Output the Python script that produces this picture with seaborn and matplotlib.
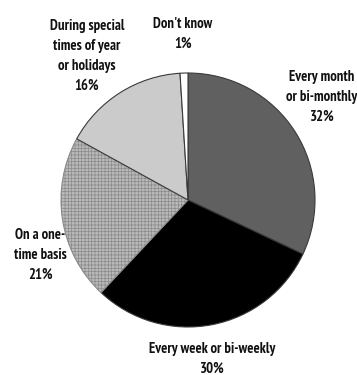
import matplotlib
matplotlib.use("Agg")
import matplotlib.pyplot as plt
import seaborn as sns

# Survey shares: how often people give
categories = [
    "Every month\nor bi-monthly",
    "Every week or bi-weekly",
    "On a one-\ntime basis",
    "During special\ntimes of year\nor holidays",
    "Don't know",
]
shares = [32, 30, 21, 16, 1]
slice_colors = ["#606060", "#000000", "#b9b9b9", "#cbcbcb", "#ffffff"]

sns.set_theme(style="white")
plt.rcParams["font.family"] = ["PT Sans Narrow", "DejaVu Sans"]
plt.rcParams["hatch.linewidth"] = 0.5

fig = plt.figure(figsize=(3.57, 3.75), dpi=100)
ax = fig.add_axes([0, 0, 1, 1])

wedges, _ = ax.pie(
    shares,
    colors=slice_colors,
    startangle=90,
    counterclock=False,
    center=(188, 175),
    radius=127,
    frame=True,
    wedgeprops=dict(edgecolor="#3a3a3a", linewidth=0.8),
)
ax.set_xlim(0, 357)
ax.set_ylim(0, 375)
ax.set_aspect("equal")
ax.axis("off")

# fine grid texture on the one-time slice
wedges[2].set_hatch("+++++")
wedges[2].set_edgecolor("#8a8a8a")

label_pos = [(322, 278), (212, 16), (40, 120), (87, 319), (183, 341)]
for name, val, (x, y) in zip(categories, shares, label_pos):
    ax.text(x, y, f"{name}\n{val}%", ha="center", va="center",
            fontsize=10.5, fontweight="bold", linespacing=1.55, color="#111111")

fig.savefig("out.png", dpi=100)
